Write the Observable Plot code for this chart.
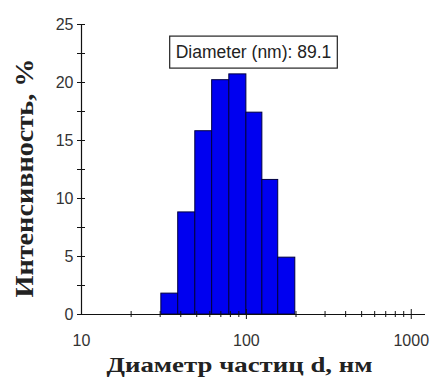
<!DOCTYPE html>
<html><head><meta charset="utf-8">
<script src="https://cdn.jsdelivr.net/npm/d3@7"></script>
<script src="https://cdn.jsdelivr.net/npm/@observablehq/plot@0.6"></script>
<style>body{margin:0;background:#fff}</style>
</head><body><div id="chart"></div>
<script>
const binLow = [30.5, 38.6, 49.0, 62.0, 78.8, 100, 125, 156];
const binHigh = [38.6, 49.0, 62.0, 78.8, 100, 125, 156, 198];
const intensity = [1.8, 8.8, 15.8, 20.2, 20.7, 17.4, 11.6, 4.9];
const xMajor = [10, 100, 1000];
const xMinor = [20, 30, 40, 50, 60, 70, 80, 90, 200, 300, 400, 500, 600, 700, 800, 900];
const yMajor = [0, 5, 10, 15, 20, 25];
const yAllTicks = [0, 2.5, 5, 7.5, 10, 12.5, 15, 17.5, 20, 22.5, 25];
const annotation = "Diameter (nm): 89.1";
const xLabel = "Диаметр частиц d, нм";
const yLabel = "Интенсивность, %";

const data = binLow.map((d, i) => ({x1: d, x2: binHigh[i], y: intensity[i]}));
const sans = "Liberation Sans, Arial, sans-serif";
const serif = "Liberation Serif, Times New Roman, serif";

const plot = Plot.plot({
  width: 431, height: 378,
  marginLeft: 81, marginRight: 6, marginTop: 24, marginBottom: 64,
  style: {background: "#fff", overflow: "visible"},
  x: {type: "log", domain: [10, 1220]},
  y: {domain: [0, 25]},
  marks: [
    Plot.rectY(data, {x1: "x1", x2: "x2", y: "y", fill: "#0000f0", stroke: "#000040", strokeWidth: 1}),
    Plot.ruleY([0], {stroke: "#111", strokeWidth: 1.2}),
    Plot.ruleX([10], {stroke: "#111", strokeWidth: 1.2}),
    Plot.axisX({ticks: xMinor, tickSize: 6, dy: -3, text: null, stroke: "#111", label: null}),
    Plot.axisX({ticks: [100, 1000], tickSize: 10, dy: -5, text: null, stroke: "#111", label: null}),
    Plot.axisX({ticks: xMajor, tickSize: 0, tickPadding: 20, tickFormat: d => String(d), fontSize: 16, fontFamily: sans, fill: "#333", label: null}),
    Plot.axisY({ticks: yAllTicks, tickSize: 8, dx: 4, text: null, stroke: "#111", label: null}),
    Plot.axisY({ticks: yMajor, tickSize: 0, tickPadding: 8, fontSize: 16, fontFamily: sans, fill: "#333", label: null}),
    Plot.text([annotation], {frameAnchor: "top", lineAnchor: "middle", dy: 28, fontSize: 17.5, fontFamily: sans, fill: "#222"}),
    Plot.text([xLabel], {frameAnchor: "bottom", textAnchor: "middle", lineAnchor: "middle", dx: -14, dy: 50, fontSize: 22, fontWeight: "bold", fontFamily: serif, fill: "#222"}),
    Plot.text([yLabel], {frameAnchor: "left", textAnchor: "middle", lineAnchor: "middle", rotate: -90, dx: -57, dy: 8.5, fontSize: 25, fontWeight: "bold", fontFamily: serif, fill: "#222"})
  ]
});
document.getElementById("chart").appendChild(plot);
const texts = d3.select(plot).selectAll("text");
texts.filter(function () { return this.textContent === xLabel; })
  .attr("textLength", 266).attr("lengthAdjust", "spacingAndGlyphs");
texts.filter(function () { return this.textContent === yLabel; })
  .attr("textLength", 239).attr("lengthAdjust", "spacingAndGlyphs");
const ann = texts.filter(function () { return this.textContent === annotation; }).node();
if (ann) {
  const b = ann.getBBox();
  d3.select(ann.parentNode).insert("rect", "text")
    .attr("transform", ann.getAttribute("transform"))
    .attr("x", b.x - 6).attr("y", b.y - 6)
    .attr("width", b.width + 12).attr("height", b.height + 12)
    .attr("fill", "#fff").attr("stroke", "#222").attr("stroke-width", 1.2);
}
</script></body></html>
